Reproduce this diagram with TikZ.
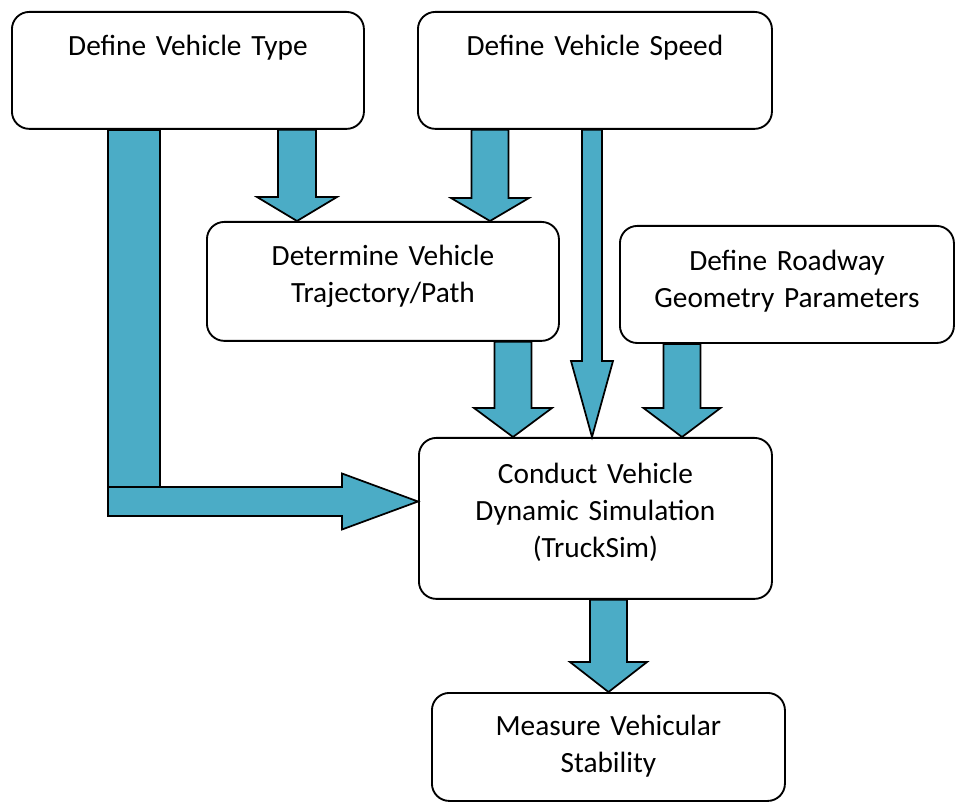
\documentclass[tikz,border=0pt]{standalone}
\usepackage{fontspec}
\setmainfont{Carlito}
\usetikzlibrary{calc, positioning}

\definecolor{arrowblue}{RGB}{75,172,198}

% block arrow pointing down: tail, tip, half shaft, half head, head length
\newcommand{\blockdown}[5]{%
  \draw[barrow] let \p1=(#1), \p2=(#2) in
    (\x1-#3,\y1) -- (\x1-#3,\y2+#5) -- (\x1-#4,\y2+#5) -- (\x2,\y2)
    -- (\x1+#4,\y2+#5) -- (\x1+#3,\y2+#5) -- (\x1+#3,\y1) -- cycle;}

\tikzset{
  stepbox/.style={draw, rectangle, rounded corners=13pt, line width=1.4pt,
    inner sep=0pt, align=center, anchor=north west,
    font=\fontsize{22}{27.75}\selectfont},
  barrow/.style={draw, fill=arrowblue, line width=1.3pt, line join=miter},
}

\begin{document}
\begin{tikzpicture}[x=0.75pt, y=-0.75pt]
                    \useasboundingbox (0,0) rectangle (964,805);

                    \node[stepbox, text width=264pt, text height=32.6pt, text depth=55.1pt] (1) at (11,11) {Define Vehicle Type};
                    \node[stepbox, text width=265.5pt, text height=32.6pt, text depth=55.1pt] (2) at (417,11) {Define Vehicle Speed};

                    \node[stepbox, text width=264pt, text height=32.6pt, text depth=56.6pt] (3) at (206,221) {Determine Vehicle\\Trajectory/Path};
                    \node[stepbox, text width=250.5pt, text height=33.4pt, text depth=54.4pt] (4) at (619,225) {Define Roadway\\Geometry Parameters};

                    \node[stepbox, text width=264.75pt, text height=34.1pt, text depth=86.6pt] (5) at (418,437) {Conduct Vehicle\\Dynamic Simulation\\(TruckSim)};
                    \node[stepbox, text width=264.75pt, text height=31.9pt, text depth=49.1pt] (6) at (431,692) {Measure Vehicular\\Stability};

                    \coordinate (x1) at (297,0);
                    \coordinate (x2) at (490,0);
                    \coordinate (x3) at (592,0);
                    \coordinate (x4) at (513,0);
                    \coordinate (x5) at (682,0);
                    \coordinate (x6) at (608.5,0);
                    \coordinate (vL) at (134,516);
                    \coordinate (hL) at (0,501.5);

                    \blockdown{1.south -| x1}{3.north -| x1}{14.25pt}{30pt}{18pt}
                    \blockdown{2.south -| x2}{3.north -| x2}{13.9pt}{29.25pt}{17.25pt}
                    \blockdown{2.south -| x3}{5.north -| x3}{7.5pt}{15.75pt}{57pt}
                    \blockdown{3.south -| x4}{5.north -| x4}{13.9pt}{29.25pt}{21.75pt}
                    \blockdown{4.south -| x5}{5.north -| x5}{13.9pt}{28.9pt}{21.75pt}
                    \blockdown{5.south -| x6}{6.north -| x6}{13.9pt}{28.9pt}{22.5pt}

                    % type goes straight to the simulation
                    \draw[barrow] let \p1=(1.south -| vL), \p2=(vL) in
                        (\x1-19.5pt,\y1) rectangle (\x1+19.5pt,\y2);
                    \draw[barrow] let \p1=(vL), \p2=(5.west |- hL) in
                        (\x1-19.5pt,\y2+10.9pt) -- (\x2-57pt,\y2+10.9pt) -- (\x2-57pt,\y2+21pt) -- (\x2,\y2)
                        -- (\x2-57pt,\y2-21pt) -- (\x2-57pt,\y2-10.9pt) -- (\x1-19.5pt,\y2-10.9pt) -- cycle;
                \end{tikzpicture}
\end{document}
